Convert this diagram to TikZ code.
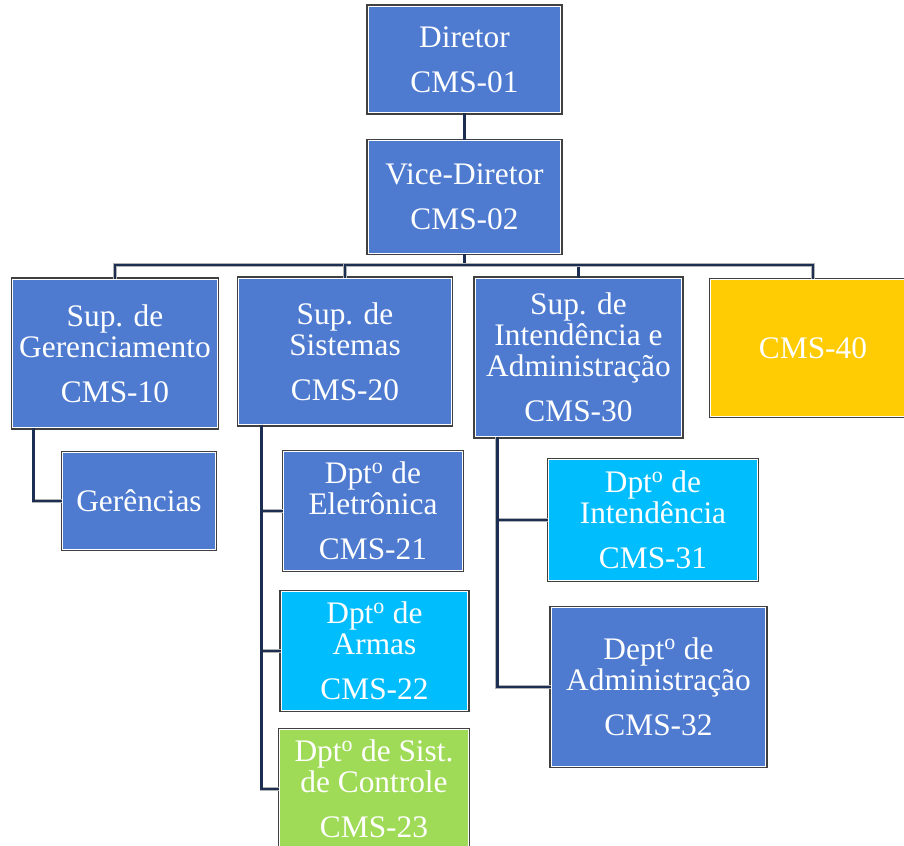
\documentclass[tikz,border=0pt]{standalone}
\usepackage{fontspec}
\setmainfont{Liberation Serif}
\usepackage{xcolor}
\usepackage{tikz}
\usetikzlibrary{positioning, calc}

\definecolor{boxblue}{HTML}{4E7BD0}
\definecolor{boxcyan}{HTML}{00BEFE}
\definecolor{boxgreen}{HTML}{A0DB58}
\definecolor{boxyellow}{HTML}{FFCC04}
\definecolor{linenavy}{HTML}{1C2F52}

\begin{document}
\begin{tikzpicture}[
    x=0.025cm, y=-0.025cm,
    font=\fontsize{22.3}{22}\selectfont,
    orgbox/.style={draw=white, line width=0.7pt, preaction={draw=black!75, line width=3.4pt}, text=white, align=center, inner sep=0pt, fill=boxblue},
    cyanbox/.style={orgbox, fill=boxcyan},
    greenbox/.style={orgbox, fill=boxgreen},
    yellowbox/.style={orgbox, fill=boxyellow},
    conn/.style={draw=gray!60, double=linenavy, double distance=1.9pt, line width=0.4pt}
]
\useasboundingbox (0,0) rectangle (904,846);

% === TOP ===
\node[orgbox, minimum width=4.78cm, minimum height=2.63cm] (dir) at (464.5,59.5) {Diretor\\[10pt]CMS-01};
\node[orgbox, minimum width=4.78cm, minimum height=2.8cm] (vice) at (464.5,197) {Vice-Diretor\\[10pt]CMS-02};

% === SUPERINTENDENCIAS ===
\node[orgbox, minimum width=5.1cm, minimum height=3.68cm] (sup10) at (115,353.5) {Sup. de\\Gerenciamento\\[10pt]CMS-10};
\node[orgbox, minimum width=5.3cm, minimum height=3.63cm] (sup20) at (345,351.5) {Sup. de\\Sistemas\\[10pt]CMS-20};
\node[orgbox, minimum width=5.13cm, minimum height=3.93cm] (sup30) at (578.5,357.5) {Sup. de\\Intendência e\\Administração\\[10pt]CMS-30};
\node[yellowbox, minimum width=5.1cm, minimum height=3.4cm] (cms40) at (813,348) {CMS-40};

% === DEPARTAMENTOS ===
\node[orgbox, minimum width=3.8cm, minimum height=2.4cm] (ger) at (139,501) {Gerências};
\node[orgbox, minimum width=4.45cm, minimum height=2.95cm] (d21) at (373,511) {Dpt\textsuperscript{o} de\\Eletrônica\\[10pt]CMS-21};
\node[cyanbox, minimum width=4.63cm, minimum height=2.95cm] (d22) at (374.5,651) {Dpt\textsuperscript{o} de\\Armas\\[10pt]CMS-22};
\node[greenbox, minimum width=4.7cm, minimum height=2.95cm] (d23) at (374,789) {Dpt\textsuperscript{o} de Sist.\\de Controle\\[10pt]CMS-23};
\node[cyanbox, minimum width=5.2cm, minimum height=3cm] (d31) at (653,520) {Dpt\textsuperscript{o} de\\Intendência\\[10pt]CMS-31};
\node[orgbox, minimum width=5.33cm, minimum height=3.95cm] (d32) at (658.5,687) {Dept\textsuperscript{o} de\\Administração\\[10pt]CMS-32};

% === CONNECTORS ===
\coordinate (bus) at (464.5,265);
\draw[conn] (dir.south) -- (vice.north);
\draw[conn] (vice.south) -- (bus);
\foreach \n in {sup10, sup20, sup30, cms40} {
    \draw[conn] (bus) -| (\n.north);
}
\draw[conn] ([xshift=0.525cm]sup10.south west) |- (ger.west);
\foreach \n in {d21, d22, d23} {
    \draw[conn] ([xshift=0.575cm]sup20.south west) |- (\n.west);
}
\foreach \n in {d31, d32} {
    \draw[conn] ([xshift=0.55cm]sup30.south west) |- (\n.west);
}

\end{tikzpicture}
\end{document}
